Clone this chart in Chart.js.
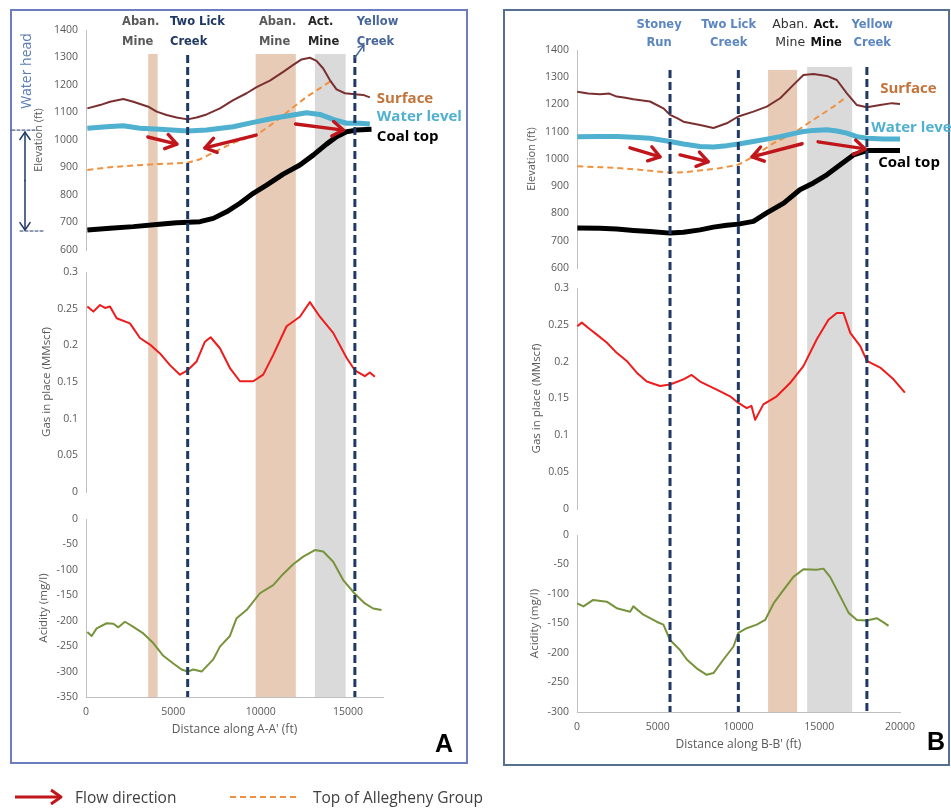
<!DOCTYPE html>
<html><head><meta charset="utf-8">
<script src="https://cdn.jsdelivr.net/npm/chart.js@4/dist/chart.umd.min.js"></script>
<style>
html,body{margin:0;padding:0;background:#fff;width:951px;height:811px;overflow:hidden;position:relative;font-family:'Open Sans',sans-serif}
canvas{position:absolute;left:0;top:0}
.panel{position:absolute;box-sizing:border-box}
#pa{left:10px;top:9px;width:458px;height:755px;border:2px solid #6b7cc0}
#pb{left:503px;top:9px;width:447px;height:757px;border:2px solid #56708f}
.lg{position:absolute;font-size:15.5px;color:#404040;line-height:20px;top:787px;white-space:nowrap}
</style></head><body>
<div class="panel" id="pa"></div><div class="panel" id="pb"></div>
<canvas id="ca" width="951" height="811"></canvas>
<canvas id="cb" width="951" height="811"></canvas>
<svg style="position:absolute;left:0;top:780px" width="320" height="30">
 <line x1="15" y1="17" x2="60" y2="17" stroke="#c0161b" stroke-width="3"/>
 <polyline points="51,10 61,17 51,24" fill="none" stroke="#c0161b" stroke-width="3" stroke-linejoin="round"/>
 <line x1="230" y1="17" x2="296" y2="17" stroke="#f0913f" stroke-width="2" stroke-dasharray="6,4"/>
</svg>
<div class="lg" style="left:75px">Flow direction</div>
<div class="lg" style="left:313px">Top of Allegheny Group</div>
<script>
// ---------- tick labels ----------
const EL_TICKS = [600,700,800,900,1000,1100,1200,1300,1400];
const GAS_TICKS = [0,0.05,0.1,0.15,0.2,0.25,0.3];
const ACID_TICKS_A = [-350,-300,-250,-200,-150,-100,-50,0];
const ACID_TICKS_B = [-300,-250,-200,-150,-100,-50,0];
const X_TICKS_A = [0,5000,10000,15000];
const X_TICKS_B = [0,5000,10000,15000,20000];

// ---------- Panel A series (distance ft, value) ----------
const aSurfX = [76,801,1373,2136,2708,3566,4042,4615,5187,5816,6331,6903,7666,8428,9191,9763,10526,11289,11861,12338,12815,13196,13578,13959,14340,14817,15389,15866,16247];
const aSurfY = [1115,1127,1139,1149,1139,1121,1103,1091,1082,1075,1082,1093,1115,1145,1170,1192,1216,1248,1273,1293,1299,1288,1260,1218,1184,1170,1166,1164,1155];
const aWatX = [76,1182,2136,3089,4233,5816,6903,8428,9573,10717,11861,12624,13387,14149,14912,15675,16247];
const aWatY = [1043,1048,1052,1043,1039,1033,1036,1048,1064,1079,1091,1099,1093,1075,1061,1061,1058];
const aCoalX = [76,1373,2708,4042,5187,6522,7285,8047,8810,9573,10336,11289,12243,13005,13768,14340,14912,15484,16343];
const aCoalY = [673,679,685,693,699,703,715,739,770,806,836,876,909,945,985,1012,1030,1036,1039];
const aAllX = [76,1373,2708,4233,5816,6522,7285,8428,9763,10717,11670,12624,13387,13959];
const aAllY = [891,901,907,913,917,930,954,990,1018,1061,1109,1157,1188,1212];
const aGasX = [76,420,801,1087,1373,1754,2517,3089,3661,4233,4805,5378,5816,6331,6808,7132,7666,8238,8810,9573,10145,10717,11480,12243,12815,13387,14149,14912,15389,15961,16247,16533];
const aGasY = [0.253,0.246,0.255,0.251,0.253,0.237,0.230,0.210,0.201,0.189,0.173,0.160,0.166,0.178,0.205,0.211,0.196,0.169,0.151,0.151,0.160,0.187,0.226,0.239,0.259,0.239,0.217,0.183,0.166,0.158,0.163,0.157];
const aAcidX = [76,324,610,1182,1564,1850,2231,2708,3280,3852,4424,4996,5473,5816,6140,6617,7285,7666,8238,8619,9191,9954,10717,11289,11861,12433,13101,13578,14149,14721,15389,15961,16438,16915];
const aAcidY = [-222,-230,-215,-205,-206,-213,-202,-212,-225,-244,-269,-284,-296,-300,-296,-300,-276,-251,-230,-195,-179,-146,-130,-108,-89,-74,-61,-64,-84,-120,-147,-166,-176,-179];

// ---------- Panel B series ----------
const bSurfX = [20,700,1425,2000,2460,3000,3490,4520,5350,5760,6200,6590,7620,8450,9270,9990,10920,11750,12580,13400,14020,14640,15470,16090,16710,17330,17950,18770,19500,20010];
const bSurfY = [1247,1240,1238,1240,1229,1225,1219,1211,1186,1162,1150,1137,1125,1114,1131,1156,1174,1192,1223,1272,1308,1312,1305,1290,1241,1198,1190,1198,1205,1202];
const bWatX = [20,1400,2460,3500,4520,5760,6590,7620,8450,9270,10000,10920,11750,12580,13400,14020,14640,15470,16090,16710,17330,17950,19000,20010];
const bWatY = [1082,1083,1083,1080,1076,1064,1055,1046,1044,1049,1055,1064,1073,1082,1093,1101,1105,1107,1103,1095,1082,1076,1073,1073];
const bCoalX = [20,1400,2460,3500,4520,5760,6590,7620,8450,9270,9990,10920,11750,12800,13800,14640,15470,16300,17120,17950,19000,20010];
const bCoalY = [747,746,743,738,734,728,731,740,750,757,761,771,802,838,887,912,942,979,1015,1031,1031,1031];
const bAllX = [20,1400,2460,4000,5760,6590,7620,8800,9990,10920,12170,13400,14640,15880,16710];
const bAllY = [973,970,967,960,950,951,958,966,979,1009,1058,1095,1144,1192,1229];
const bGasX = [20,300,800,1210,1840,2460,3080,3700,4320,5140,5760,6590,7100,7620,8650,9480,9990,10510,10800,11030,11540,12370,13190,14020,14840,15570,16090,16500,16920,17540,17950,18770,19600,20300];
const bGasY = [0.248,0.253,0.244,0.237,0.226,0.212,0.201,0.185,0.173,0.167,0.169,0.176,0.182,0.173,0.162,0.153,0.144,0.137,0.140,0.121,0.142,0.153,0.171,0.194,0.230,0.257,0.266,0.266,0.239,0.221,0.201,0.192,0.176,0.158];
const bAcidX = [20,400,1000,1840,2460,3290,3490,4110,4930,5350,5760,6380,6800,7410,8030,8450,9070,9690,9990,10510,11130,11650,12170,12790,13400,14020,14840,15260,15670,16300,16820,17330,17950,18560,18980,19290];
const bAcidY = [-116,-121,-110,-113,-124,-130,-121,-135,-147,-152,-178,-195,-211,-226,-237,-234,-211,-189,-166,-158,-152,-144,-116,-93,-71,-58,-59,-57,-71,-104,-132,-144,-145,-141,-148,-154];

// ---------- features (distance ft) ----------
const aBandFrom = [3560, 9710, 13100];
const aBandTo   = [4100, 12010, 14860];
const aCreekX   = [5820, 15390];
const bBandFrom = [11830, 14250];
const bBandTo   = [13630, 17040];
const bCreekX   = [5760, 9990, 17950];
// flow arrows (distance ft, elevation ft)
const aFlowX0 = [3540, 9740, 11990], aFlowY0 = [1011, 1018, 1058];
const aFlowX1 = [5200, 6810, 14730], aFlowY1 = [985, 971, 1036];
const bFlowX0 = [3280, 6380, 13940, 14930], bFlowY0 = [1041, 1015, 1056, 1063];
const bFlowX1 = [5140, 8120, 10840, 17840], bFlowY1 = [1008, 990, 1008, 1037];

const C = {surface:'#7a3030', water:'#4fb0cf', coal:'#000000', alleg:'#f0913f', gas:'#ee1c1c', acid:'#77933c',
  creek:'#1f3864', aban:'#e7cbb7', act:'#dadada', flow:'#c0161b', axis:'#bfbfbf', tick:'#595959'};

Chart.defaults.font.family = "'Open Sans', sans-serif";

function arrow(ctx, x0, y0, x1, y1, color, w, head) {
  const a = Math.atan2(y1 - y0, x1 - x0);
  ctx.strokeStyle = color; ctx.lineWidth = w; ctx.lineCap = 'round'; ctx.lineJoin = 'round';
  ctx.beginPath(); ctx.moveTo(x0, y0); ctx.lineTo(x1, y1); ctx.stroke();
  ctx.beginPath();
  ctx.moveTo(x1 - head * Math.cos(a - 0.6), y1 - head * Math.sin(a - 0.6));
  ctx.lineTo(x1, y1);
  ctx.lineTo(x1 - head * Math.cos(a + 0.6), y1 - head * Math.sin(a + 0.6));
  ctx.stroke();
}
function txt(ctx, s, x, y, font, color, align) {
  ctx.font = font; ctx.fillStyle = color; ctx.textAlign = align || 'left'; ctx.textBaseline = 'middle';
  ctx.fillText(s, x, y);
}

function annoPlugin(P) {
  return {
    id: 'anno',
    beforeDatasetsDraw(chart) {
      const {ctx, chartArea: ca, scales} = chart;
      const x = scales.x, yE = scales.yE;
      ctx.save();
      P.bandFrom.forEach((f, i) => {
        const x0 = x.getPixelForValue(f), x1 = x.getPixelForValue(P.bandTo[i]);
        const t = yE.getPixelForValue(P.bandTop[i]);
        ctx.fillStyle = P.bandColor[i];
        ctx.fillRect(x0, t, x1 - x0, ca.bottom - t);
      });
      ctx.restore();
    },
    afterDatasetsDraw(chart) {
      const {ctx, chartArea: ca, scales} = chart;
      const x = scales.x, yE = scales.yE;
      ctx.save();
      ctx.strokeStyle = C.creek; ctx.lineWidth = 3; ctx.setLineDash([8, 4]); ctx.lineCap = 'butt';
      P.creekX.forEach((cx, i) => {
        const px = x.getPixelForValue(cx);
        ctx.beginPath(); ctx.moveTo(px, yE.getPixelForValue(P.creekTop[i])); ctx.lineTo(px, ca.bottom); ctx.stroke();
      });
      ctx.setLineDash([]);
      P.flowX0.forEach((fx, i) => arrow(ctx, x.getPixelForValue(fx), yE.getPixelForValue(P.flowY0[i]),
        x.getPixelForValue(P.flowX1[i]), yE.getPixelForValue(P.flowY1[i]), C.flow, 3.4, 13));
      if (P.creekArrow) {
        const c = P.creekArrow;
        arrow(ctx, x.getPixelForValue(c[0]), yE.getPixelForValue(c[1]), x.getPixelForValue(c[2]), yE.getPixelForValue(c[3]), '#46659a', 1.5, 6);
      }
      // top labels
      P.topLabels.forEach(L => {
        const px = x.getPixelForValue(L.x);
        L.lines.forEach((s, j) => txt(ctx, s, px, P.topLineY[j], L.font, L.color, P.topAlign));
      });
      // right labels
      P.rightLabels.forEach(L => txt(ctx, L.t, x.getPixelForValue(L.x), yE.getPixelForValue(L.y), 'bold 15px "Open Sans"', L.color, 'left'));
      // water head annotation
      if (P.waterHead) {
        const wx = ca.left - 61;
        const yT = yE.getPixelForValue(1036), yB = yE.getPixelForValue(669);
        const mid = (yT + yB) / 2;
        arrow(ctx, wx, mid, wx, yT + 2, C.creek, 1.5, 9);
        arrow(ctx, wx, mid, wx, yB - 1, C.creek, 1.5, 9);
        ctx.setLineDash([3, 2]); ctx.lineWidth = 1; ctx.strokeStyle = C.creek;
        ctx.beginPath(); ctx.moveTo(ca.left - 74, yT); ctx.lineTo(ca.left - 49, yT); ctx.stroke();
        ctx.beginPath(); ctx.moveTo(ca.left - 66, yB); ctx.lineTo(ca.left - 43, yB); ctx.stroke();
        ctx.setLineDash([]);
        ctx.save(); ctx.translate(ca.left - 59, 71); ctx.rotate(-Math.PI / 2);
        txt(ctx, 'Water head', 0, 0, '14px "Open Sans"', '#5a7db4', 'center');
        ctx.restore();
      }
      txt(ctx, P.letter, P.letterPos[0], P.letterPos[1], 'bold 25px "Liberation Sans"', '#000', 'center');
      ctx.restore();
    }
  };
}

function buildPanel(id, P) {
  const W = 56;
  const mk = (xs, ys) => xs.map((v, i) => ({x: v, y: ys[i]}));
  const ds = (label, xs, ys, axis, color, width, dash) => ({label, data: mk(xs, ys), yAxisID: axis,
    borderColor: color, borderWidth: width, borderDash: dash || [], pointRadius: 0, tension: 0, fill: false,
    borderJoinStyle: 'round'});
  const yScale = (weight, sw, min, max, ticks, title, tpad, tsize) => ({
    type: 'linear', position: 'left', stack: 's', stackWeight: sw, weight, min, max,
    afterBuildTicks: s => { s.ticks = ticks.map(v => ({value: v})); },
    afterFit: s => { s.width = W; },
    grid: {display: false, drawTicks: false},
    border: {display: true, color: C.axis, width: 1},
    ticks: {padding: 8, color: C.tick, font: {size: 10.5}, autoSkip: false, callback: v => String(v)},
    title: {display: true, text: title, color: C.tick, font: {size: tsize}, padding: {top: tpad, bottom: 0}}
  });
  const gap = (weight, sw) => ({type: 'linear', position: 'left', stack: 's', stackWeight: sw, weight,
    afterFit: s => { s.width = W; }, grid: {display: false, drawTicks: false}, border: {display: false}, ticks: {display: false}});
  const gasDs = ds('Gas in place', P.gasX, P.gasY, 'yG', C.gas, 2);
  if (P.gasClip === false) gasDs.clip = false;
  new Chart(document.getElementById(id), {
    type: 'line',
    data: {datasets: [
      ds('Coal top', P.coalX, P.coalY, 'yE', C.coal, 5),
      ds('Water level', P.watX, P.watY, 'yE', C.water, 5),
      ds('Surface', P.surfX, P.surfY, 'yE', C.surface, 2),
      ds('Top of Allegheny Group', P.allX, P.allY, 'yE', C.alleg, 2, [6, 4]),
      gasDs,
      ds('Acidity', P.acidX, P.acidY, 'yA', C.acid, 2)
    ]},
    options: {
      responsive: false, animation: false, devicePixelRatio: 1, events: [],
      layout: {padding: {left: P.axisPx - W, right: 951 - P.xEndPx, top: P.topPx, bottom: 811 - P.bottomPx - 40}},
      plugins: {legend: {display: false}, tooltip: {enabled: false}},
      scales: {
        x: {type: 'linear', position: 'bottom', min: 0, max: P.xMax,
          afterBuildTicks: s => { s.ticks = P.xTicks.map(v => ({value: v})); },
          afterFit: s => { s.height = 40; },
          grid: {display: false, drawTicks: false}, border: {color: C.axis, width: 1},
          ticks: {padding: 9, color: C.tick, font: {size: 10.5}, autoSkip: false, maxRotation: 0, callback: v => String(v)},
          title: {display: true, text: P.xTitle, color: C.tick, font: {size: 12}, padding: {top: 0, bottom: 0}}},
        yE: yScale(5, P.sw[0], 600, 1400, EL_TICKS, 'Elevation (ft)', P.tpad[0], 11),
        g1: gap(4, P.sw[1]),
        yG: yScale(3, P.sw[2], 0, 0.3, GAS_TICKS, 'Gas in place (MMscf)', P.tpad[1], 11.5),
        g2: gap(2, P.sw[3]),
        yA: yScale(1, P.sw[4], P.acidMin, 0, P.acidTicks, 'Acidity (mg/l)', P.tpad[2], 11.5)
      }
    },
    plugins: [annoPlugin(P)]
  });
}

const DJ = '"DejaVu Sans"';
buildPanel('ca', {
  surfX: aSurfX, surfY: aSurfY, watX: aWatX, watY: aWatY, coalX: aCoalX, coalY: aCoalY, allX: aAllX, allY: aAllY,
  gasX: aGasX, gasY: aGasY, acidX: aAcidX, acidY: aAcidY,
  axisPx: 86, xEndPx: 383, topPx: 30, bottomPx: 697, xMax: 17000, xTicks: X_TICKS_A,
  xTitle: "Distance along A-A' (ft)", sw: [220, 22, 220, 27, 178], tpad: [2, 10, 7],
  acidMin: -350, acidTicks: ACID_TICKS_A,
  bandFrom: aBandFrom, bandTo: aBandTo, bandTop: [1313, 1313, 1313], bandColor: [C.aban, C.aban, C.act],
  creekX: aCreekX, creekTop: [1309, 1309],
  flowX0: aFlowX0, flowY0: aFlowY0, flowX1: aFlowX1, flowY1: aFlowY1,
  creekArrow: [15390, 1300, 15904, 1345],
  topAlign: 'left', topLineY: [22, 42],
  topLabels: [
    {lines: ['Aban.', 'Mine'], x: 2060, font: 'bold 11.5px ' + DJ, color: '#595959'},
    {lines: ['Two Lick', 'Creek'], x: 4805, font: 'bold 11.5px ' + DJ, color: '#1f3864'},
    {lines: ['Aban.', 'Mine'], x: 9897, font: 'bold 11.5px ' + DJ, color: '#595959'},
    {lines: ['Act.', 'Mine'], x: 12700, font: 'bold 11.5px ' + DJ, color: '#262626'},
    {lines: ['Yellow', 'Creek'], x: 15503, font: 'bold 11.5px ' + DJ, color: '#46659a'}
  ],
  rightLabels: [
    {t: 'Surface', x: 16648, y: 1149, color: '#c2743a'},
    {t: 'Water level', x: 16648, y: 1084, color: '#4fb0cf'},
    {t: 'Coal top', x: 16648, y: 1011, color: '#000'}
  ],
  waterHead: true, letter: 'A', letterPos: [444, 745]
});
buildPanel('cb', {
  surfX: bSurfX, surfY: bSurfY, watX: bWatX, watY: bWatY, coalX: bCoalX, coalY: bCoalY, allX: bAllX, allY: bAllY,
  gasX: bGasX, gasY: bGasY, acidX: bAcidX, acidY: bAcidY, gasClip: false,
  axisPx: 577, xEndPx: 900, topPx: 50, bottomPx: 712, xMax: 20000, xTicks: X_TICKS_B,
  xTitle: "Distance along B-B' (ft)", sw: [218, 20, 221, 26, 177], tpad: [4, 9, 7],
  acidMin: -300, acidTicks: ACID_TICKS_B,
  bandFrom: bBandFrom, bandTo: bBandTo, bandTop: [1327, 1338], bandColor: [C.aban, C.act],
  creekX: bCreekX, creekTop: [1327, 1327, 1338],
  flowX0: bFlowX0, flowY0: bFlowY0, flowX1: bFlowX1, flowY1: bFlowY1,
  topAlign: 'center', topLineY: [25, 43],
  topLabels: [
    {lines: ['Stoney', 'Run'], x: 5080, font: 'bold 11.5px ' + DJ, color: '#5b86bf'},
    {lines: ['Two Lick', 'Creek'], x: 9390, font: 'bold 11.5px ' + DJ, color: '#5b86bf'},
    {lines: ['Aban.', 'Mine'], x: 13200, font: '12.5px ' + DJ, color: '#333'},
    {lines: ['Act.', 'Mine'], x: 15430, font: 'bold 11.5px ' + DJ, color: '#111'},
    {lines: ['Yellow', 'Creek'], x: 18280, font: 'bold 11.5px ' + DJ, color: '#5b86bf'}
  ],
  rightLabels: [
    {t: 'Surface', x: 18770, y: 1257, color: '#c2743a'},
    {t: 'Water level', x: 18215, y: 1114, color: '#4fb0cf'},
    {t: 'Coal top', x: 18650, y: 986, color: '#000'}
  ],
  waterHead: false, letter: 'B', letterPos: [936, 743]
});
</script>
</body></html>
